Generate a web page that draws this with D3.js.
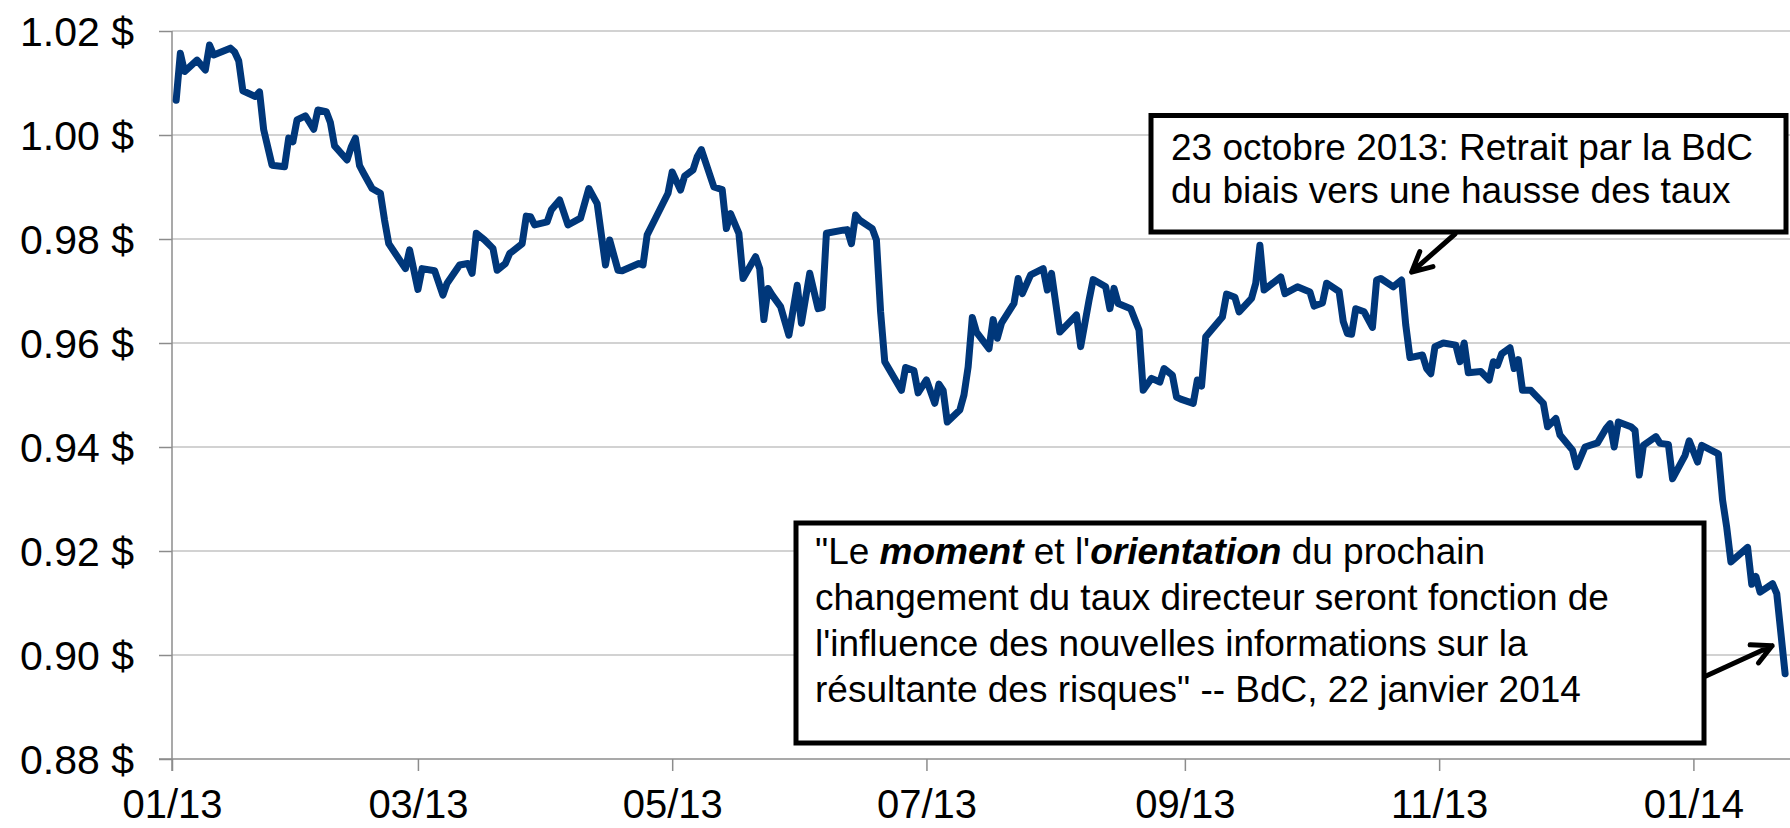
<!DOCTYPE html>
<html>
<head>
<meta charset="utf-8">
<script src="https://cdn.jsdelivr.net/npm/d3@7"></script>
<style>
  html, body { margin: 0; padding: 0; background: #fff; }
  svg { display: block; font-family: 'Liberation Sans', Arial, sans-serif; }
</style>
</head>
<body>
<svg id="drawing_region"></svg>
<script>
// CAD/USD, daily close
const dates = [
  '2013-01-02','2013-01-03','2013-01-04','2013-01-07','2013-01-09','2013-01-10','2013-01-11','2013-01-15',
  '2013-01-16','2013-01-17','2013-01-18','2013-01-21','2013-01-22','2013-01-23','2013-01-25','2013-01-28',
  '2013-01-29','2013-01-30','2013-01-31','2013-02-02','2013-02-04','2013-02-05','2013-02-07','2013-02-08',
  '2013-02-09','2013-02-12','2013-02-13','2013-02-14','2013-02-15','2013-02-16','2013-02-18','2013-02-20',
  '2013-02-21','2013-02-22','2013-02-26','2013-02-27','2013-03-01','2013-03-02','2013-03-05','2013-03-07',
  '2013-03-08','2013-03-11','2013-03-13','2013-03-14','2013-03-15','2013-03-17','2013-03-19','2013-03-20',
  '2013-03-22','2013-03-23','2013-03-26','2013-03-27','2013-03-28','2013-03-29','2013-04-01','2013-04-02',
  '2013-04-04','2013-04-06','2013-04-09','2013-04-11','2013-04-13','2013-04-15','2013-04-16','2013-04-18',
  '2013-04-19','2013-04-23','2013-04-24','2013-04-25','2013-04-27','2013-04-30','2013-05-01','2013-05-03',
  '2013-05-04','2013-05-06','2013-05-07','2013-05-08','2013-05-11','2013-05-13','2013-05-14','2013-05-15',
  '2013-05-17','2013-05-18','2013-05-21','2013-05-22','2013-05-23','2013-05-24','2013-05-25','2013-05-27',
  '2013-05-29','2013-05-31','2013-06-01','2013-06-03','2013-06-05','2013-06-06','2013-06-07','2013-06-11',
  '2013-06-12','2013-06-13','2013-06-14','2013-06-15','2013-06-18','2013-06-19','2013-06-20','2013-06-21',
  '2013-06-25','2013-06-26','2013-06-28','2013-06-29','2013-07-01','2013-07-03','2013-07-04','2013-07-05',
  '2013-07-06','2013-07-09','2013-07-10','2013-07-11','2013-07-12','2013-07-13','2013-07-16','2013-07-17',
  '2013-07-18','2013-07-19','2013-07-22','2013-07-23','2013-07-24','2013-07-26','2013-07-29','2013-07-30',
  '2013-07-31','2013-08-02','2013-08-06','2013-08-07','2013-08-09','2013-08-10','2013-08-13','2013-08-14',
  '2013-08-15','2013-08-16','2013-08-19','2013-08-21','2013-08-22','2013-08-24','2013-08-26','2013-08-27',
  '2013-08-29','2013-08-30','2013-08-31','2013-09-03','2013-09-04','2013-09-05','2013-09-06','2013-09-10',
  '2013-09-11','2013-09-13','2013-09-14','2013-09-17','2013-09-18','2013-09-19','2013-09-20','2013-09-24',
  '2013-09-25','2013-09-28','2013-10-01','2013-10-02','2013-10-04','2013-10-05','2013-10-08','2013-10-09',
  '2013-10-10','2013-10-11','2013-10-12','2013-10-14','2013-10-16','2013-10-17','2013-10-18','2013-10-21',
  '2013-10-23','2013-10-24','2013-10-25','2013-10-28','2013-10-29','2013-10-30','2013-10-31','2013-11-02',
  '2013-11-05','2013-11-06','2013-11-07','2013-11-08','2013-11-11','2013-11-13','2013-11-14','2013-11-15',
  '2013-11-16','2013-11-18','2013-11-19','2013-11-20','2013-11-21','2013-11-23','2013-11-26','2013-11-27',
  '2013-11-29','2013-11-30','2013-12-03','2013-12-04','2013-12-06','2013-12-09','2013-12-11','2013-12-12',
  '2013-12-13','2013-12-14','2013-12-17','2013-12-18','2013-12-19','2013-12-20','2013-12-23','2013-12-24',
  '2013-12-26','2013-12-27','2013-12-30','2013-12-31','2014-01-02','2014-01-03','2014-01-07','2014-01-08',
  '2014-01-09','2014-01-10','2014-01-14','2014-01-15','2014-01-16','2014-01-17','2014-01-20','2014-01-21',
  '2014-01-23'
];
const values = [
  1.0067,1.0157,1.0122,1.0144,1.0125,1.0173,1.0154,1.0167,
  1.0160,1.0143,1.0085,1.0074,1.0083,1.0010,0.9942,0.9939,
  0.9994,0.9987,1.0029,1.0037,1.0011,1.0048,1.0045,1.0024,
  0.9979,0.9952,0.9977,0.9994,0.9941,0.9926,0.9897,0.9888,
  0.9836,0.9791,0.9743,0.9779,0.9703,0.9743,0.9739,0.9692,
  0.9715,0.9750,0.9753,0.9734,0.9811,0.9798,0.9782,0.9740,
  0.9753,0.9772,0.9791,0.9844,0.9843,0.9827,0.9833,0.9856,
  0.9875,0.9827,0.9840,0.9897,0.9868,0.9750,0.9798,0.9740,
  0.9739,0.9753,0.9750,0.9808,0.9840,0.9888,0.9929,0.9894,
  0.9921,0.9933,0.9958,0.9972,0.9900,0.9895,0.9820,0.9849,
  0.9811,0.9724,0.9766,0.9743,0.9645,0.9705,0.9692,0.9670,
  0.9615,0.9711,0.9638,0.9734,0.9666,0.9668,0.9811,0.9817,
  0.9818,0.9791,0.9846,0.9836,0.9820,0.9798,0.9660,0.9564,
  0.9509,0.9553,0.9547,0.9504,0.9529,0.9484,0.9521,0.9509,
  0.9448,0.9471,0.9500,0.9554,0.9649,0.9621,0.9589,0.9645,
  0.9609,0.9638,0.9676,0.9724,0.9695,0.9731,0.9743,0.9702,
  0.9734,0.9621,0.9654,0.9593,0.9682,0.9722,0.9708,0.9666,
  0.9705,0.9676,0.9666,0.9625,0.9509,0.9532,0.9525,0.9551,
  0.9538,0.9496,0.9492,0.9484,0.9529,0.9517,0.9612,0.9650,
  0.9694,0.9688,0.9660,0.9686,0.9715,0.9788,0.9702,0.9727,
  0.9695,0.9708,0.9698,0.9671,0.9677,0.9715,0.9699,0.9641,
  0.9618,0.9617,0.9666,0.9660,0.9630,0.9721,0.9724,0.9708,
  0.9721,0.9634,0.9572,0.9577,0.9551,0.9541,0.9593,0.9600,
  0.9596,0.9564,0.9600,0.9543,0.9545,0.9529,0.9564,0.9557,
  0.9579,0.9591,0.9551,0.9568,0.9509,0.9509,0.9484,0.9439,
  0.9455,0.9423,0.9394,0.9362,0.9400,0.9408,0.9435,0.9445,
  0.9400,0.9448,0.9439,0.9432,0.9346,0.9403,0.9420,0.9407,
  0.9405,0.9339,0.9384,0.9412,0.9371,0.9403,0.9387,0.9298,
  0.9245,0.9179,0.9207,0.9136,0.9151,0.9121,0.9137,0.9118,
  0.8964
];
const yTicks = [0.88, 0.90, 0.92, 0.94, 0.96, 0.98, 1.00, 1.02];
const xTicks = ['2013-01-01','2013-03-01','2013-05-01','2013-07-01','2013-09-01','2013-11-01','2014-01-01'];

const note1Lines = ['23 octobre 2013: Retrait par la BdC', 'du biais vers une hausse des taux'];
const note2Lines = [
  [['"Le ', false], ['moment', true], [' et l\'', false], ['orientation', true], [' du prochain', false]],
  [['changement du taux directeur seront fonction de', false]],
  [['l\'influence des nouvelles informations sur la', false]],
  [['résultante des risques" -- BdC, 22 janvier 2014', false]]
];

const parse = d3.timeParse('%Y-%m-%d');
const data = dates.map((d, i) => ({ date: parse(d), value: values[i] }));

const config = {
  width: 1790,
  height: 828,
  margin: { left: 172, right: 1790, top: 31, bottom: 759 }
};
const m = config.margin;

const svg = d3.select('#drawing_region')
  .attr('width', config.width)
  .attr('height', config.height);

const xscale = d3.scaleTime()
  .domain([parse('2013-01-01'), parse('2014-01-01')])
  .range([m.left, 1693.4]);
const yscale = d3.scaleLinear()
  .domain([0.88, 1.02])
  .range([m.bottom, m.top]);

// grid
svg.append('g')
  .selectAll('line')
  .data(yTicks.slice(1))
  .join('line')
  .attr('x1', m.left).attr('x2', m.right)
  .attr('y1', d => yscale(d)).attr('y2', d => yscale(d))
  .attr('stroke', '#c3c3c3')
  .attr('stroke-width', 1.5);

// axes
const yaxis = d3.axisLeft(yscale)
  .tickValues(yTicks)
  .tickFormat(d => d3.format('.2f')(d) + ' $')
  .tickSize(13)
  .tickPadding(25)
  .tickSizeOuter(0);
const yg = svg.append('g')
  .attr('transform', `translate(${m.left},0)`)
  .call(yaxis);
yg.select('.domain').remove();
yg.selectAll('line').attr('stroke', '#8c8c8c').attr('stroke-width', 1.5);
yg.selectAll('text').attr('font-size', 41).attr('fill', '#000').attr('dy', '0.36em')
  .attr('font-family', "'Liberation Sans', Arial, sans-serif");

const xaxis = d3.axisBottom(xscale)
  .tickValues(xTicks.map(parse))
  .tickFormat(d3.timeFormat('%m/%y'))
  .tickSize(12)
  .tickPadding(19)
  .tickSizeOuter(0);
const xg = svg.append('g')
  .attr('transform', `translate(0,${m.bottom})`)
  .call(xaxis);
xg.select('.domain').remove();
xg.selectAll('line').attr('stroke', '#8c8c8c').attr('stroke-width', 1.5);
xg.selectAll('text').attr('font-size', 40).attr('fill', '#000')
  .attr('font-family', "'Liberation Sans', Arial, sans-serif");

svg.append('line')
  .attr('x1', m.left).attr('x2', m.left).attr('y1', m.top).attr('y2', m.bottom + 12)
  .attr('stroke', '#8c8c8c').attr('stroke-width', 1.5);
svg.append('line')
  .attr('x1', m.left - 13).attr('x2', m.right).attr('y1', m.bottom).attr('y2', m.bottom)
  .attr('stroke', '#8c8c8c').attr('stroke-width', 1.5);

// series
const line = d3.line()
  .x(d => xscale(d.date))
  .y(d => yscale(d.value));
svg.append('path')
  .attr('d', line(data))
  .attr('fill', 'none')
  .attr('stroke', '#00377a')
  .attr('stroke-width', 7)
  .attr('stroke-linejoin', 'round')
  .attr('stroke-linecap', 'round');

// annotations
function arrow(x1, y1, x2, y2) {
  const a = Math.atan2(y1 - y2, x1 - x2);
  const len = 22, spread = 27 * Math.PI / 180;
  const p1 = [x2 + len * Math.cos(a + spread), y2 + len * Math.sin(a + spread)];
  const p2 = [x2 + len * Math.cos(a - spread), y2 + len * Math.sin(a - spread)];
  svg.append('path')
    .attr('d', `M${x1},${y1}L${x2},${y2}M${p1[0]},${p1[1]}L${x2},${y2}L${p2[0]},${p2[1]}`)
    .attr('fill', 'none')
    .attr('stroke', '#000')
    .attr('stroke-width', 5)
    .attr('stroke-linecap', 'round')
    .attr('stroke-linejoin', 'round');
}

// box 1
svg.append('rect')
  .attr('x', 1151).attr('y', 115.5).attr('width', 635).attr('height', 116.5)
  .attr('fill', '#fff').attr('stroke', '#000').attr('stroke-width', 5);
svg.append('text')
  .attr('font-size', 37).attr('fill', '#000')
  .selectAll('tspan')
  .data(note1Lines)
  .join('tspan')
  .attr('x', 1171)
  .attr('y', (d, i) => 159.5 + i * 43)
  .text(d => d);
const oct23 = data[dates.indexOf('2013-10-23')];
arrow(1455, 234, xscale(oct23.date) + 10, yscale(oct23.value) - 8);

// box 2
svg.append('rect')
  .attr('x', 796).attr('y', 523).attr('width', 908).attr('height', 220)
  .attr('fill', '#fff').attr('stroke', '#000').attr('stroke-width', 5);
const t2 = svg.append('text').attr('font-size', 37).attr('fill', '#000');
note2Lines.forEach((parts, i) => {
  parts.forEach((p, j) => {
    const ts = t2.append('tspan').text(p[0]);
    if (j === 0) ts.attr('x', 815).attr('y', 564 + i * 46);
    if (p[1]) ts.attr('font-weight', 'bold').attr('font-style', 'italic');
  });
});
const last = data[data.length - 1];
arrow(1706, 676, xscale(last.date) - 13, yscale(last.value) - 28);
</script>
</body>
</html>
